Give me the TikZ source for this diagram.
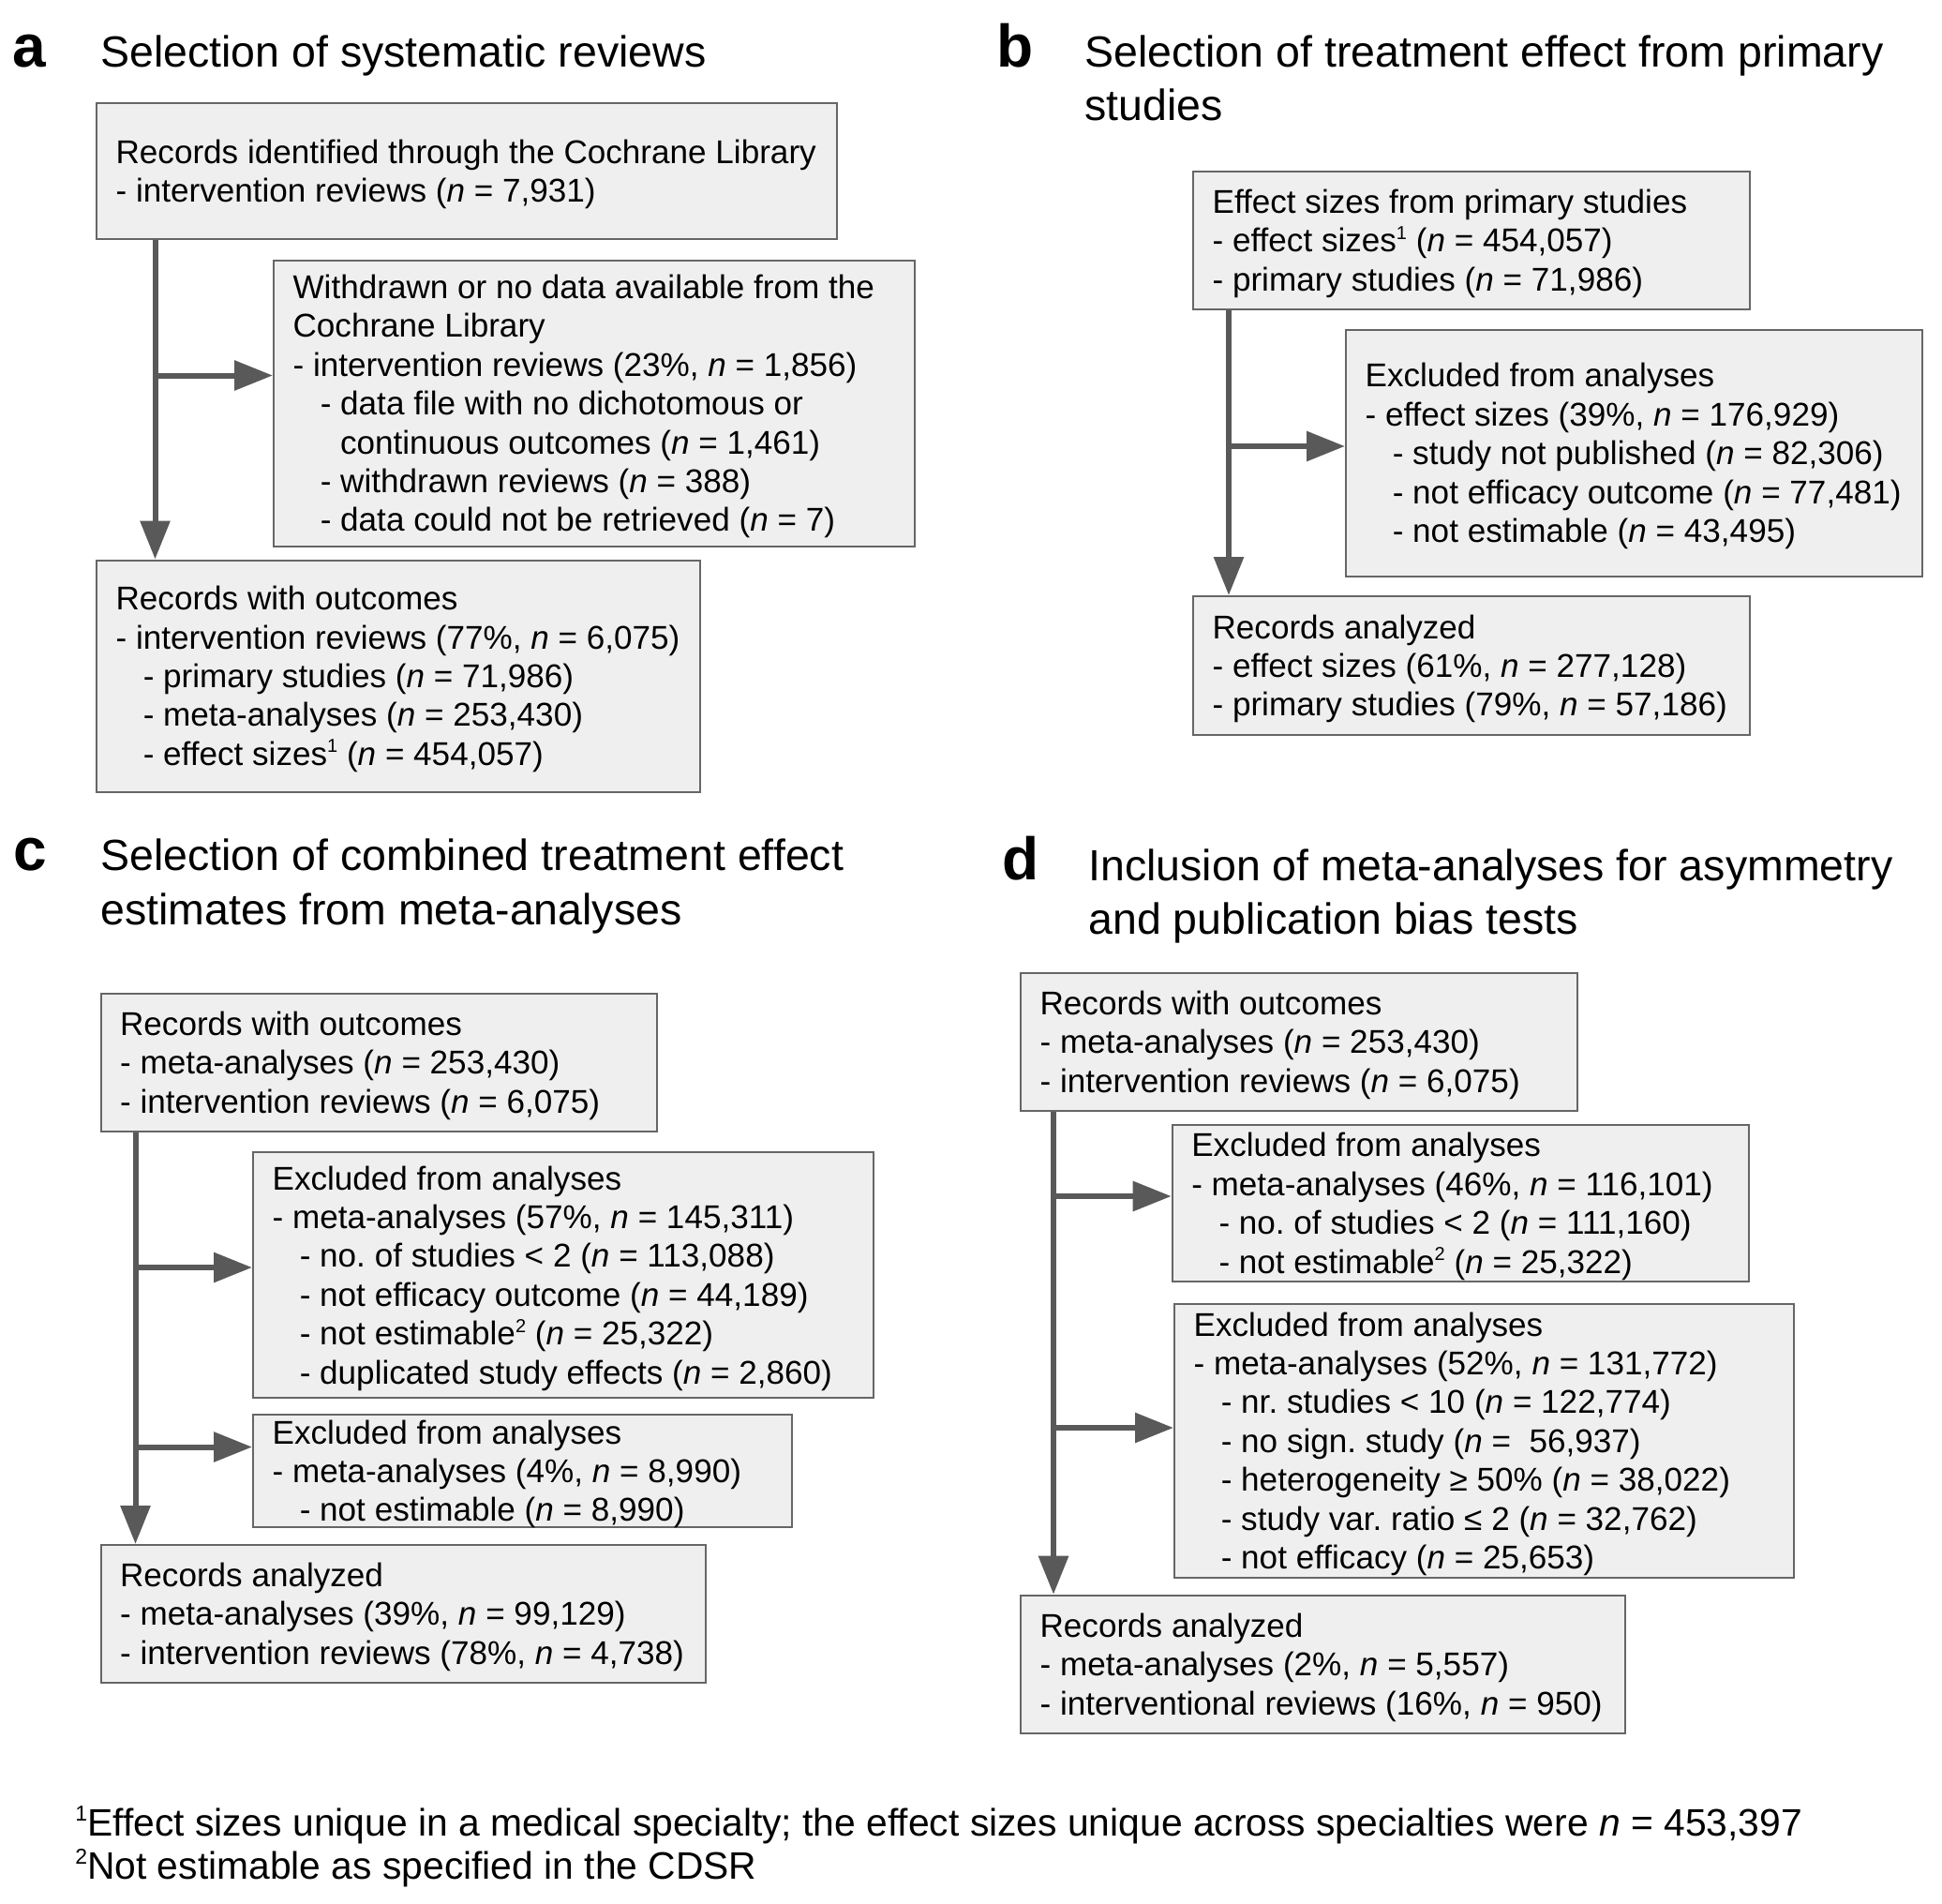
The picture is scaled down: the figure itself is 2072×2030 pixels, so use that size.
\documentclass[tikz,border=0pt]{standalone}
\usepackage{fontspec}
\setmainfont{Liberation Sans}
\usetikzlibrary{arrows.meta,fit}
\frenchspacing
\definecolor{boxfill}{HTML}{EFEFEF}
\definecolor{boxline}{HTML}{666666}
\definecolor{arrowc}{HTML}{595959}
\newcommand\ind{\hspace*{14.6pt}}
\newcommand\indd{\hspace*{25.2pt}}
\newcommand\ls{\rule[-4.1pt]{0pt}{20.7pt}}
\newcommand\nn{\textit{n}}
\newcommand\sups[1]{\raisebox{6.8pt}{\fontsize{10pt}{10pt}\selectfont #1}}
\newcommand\fsups[1]{\raisebox{8pt}{\fontsize{11.5pt}{11.5pt}\selectfont #1}}
\begin{document}
\begin{tikzpicture}[x=0.5pt,y=-0.5pt,
  box/.style={draw=boxline, line width=1pt, fill=boxfill, inner sep=0pt, rectangle},
  txt/.style={inner sep=0pt, align=left, anchor=west, font=\fontsize{17.55pt}{20.7pt}\selectfont},
  ttl/.style={inner sep=0pt, anchor=base west, font=\fontsize{23.25pt}{28.5pt}\selectfont},
  lbl/.style={inner sep=0pt, anchor=base west, font=\fontsize{32pt}{38pt}\selectfont\bfseries},
  fn/.style={inner sep=0pt, anchor=base west, font=\fontsize{20.4pt}{23pt}\selectfont},
  arr/.style={draw=arrowc, line width=3pt, -{Triangle[length=20.5pt,width=15.5pt]}}
]
\useasboundingbox[fill=white] (0,0) rectangle (2072,2030);

% ---------- panel a ----------
\node[lbl] (la) at (13,71.5) {a};
\node[ttl] (ta) at (107,71.5) {Selection of systematic reviews};
\node[box, fit={(103,110) (893,255)}] (a1) {};
\node[txt] (a1t) at ([xshift=10.6pt]a1.west) {\ls Records identified through the Cochrane Library\\
\ls - intervention reviews (\nn{} = 7,931)};
\node[box, fit={(292,277.5) (975.5,583)}] (a2) {};
\node[txt] (a2t) at ([xshift=10.6pt]a2.west) {\ls Withdrawn or no data available from the\\
\ls Cochrane Library\\
\ls - intervention reviews (23\%, \nn{} = 1,856)\\
\ls\ind - data file with no dichotomous or\\
\ls\indd continuous outcomes (\nn{} = 1,461)\\
\ls\ind - withdrawn reviews (\nn{} = 388)\\
\ls\ind - data could not be retrieved (\nn{} = 7)};
\node[box, fit={(103,597.5) (746.5,844.5)}] (a3) {};
\node[txt] (a3t) at ([xshift=10.6pt]a3.west) {\ls Records with outcomes\\
\ls - intervention reviews (77\%, \nn{} = 6,075)\\
\ls\ind - primary studies (\nn{} = 71,986)\\
\ls\ind - meta-analyses (\nn{} = 253,430)\\
\ls\ind - effect sizes\sups{1} (\nn{} = 454,057)};
\coordinate (ax) at (165.5,0);
\coordinate (ah) at (0,400.5);
\draw[arr] (a1.south -| ax) -- (a3.north -| ax);
\draw[arr] (ax |- ah) -- (a2.west |- ah);

% ---------- panel b ----------
\node[lbl] (lb) at (1063.5,71.5) {b};
\node[ttl] (tb1) at (1157,71.5) {Selection of treatment effect from primary};
\node[ttl] (tb2) at (1157,128.5) {studies};
\node[box, fit={(1273,182.5) (1866.5,330)}] (b1) {};
\node[txt] (b1t) at ([xshift=10.6pt]b1.west) {\ls Effect sizes from primary studies\\
\ls - effect sizes\sups{1} (\nn{} = 454,057)\\
\ls - primary studies (\nn{} = 71,986)};
\node[box, fit={(1436,351.5) (2051,615)}] (b2) {};
\node[txt] (b2t) at ([xshift=10.6pt]b2.west) {\ls Excluded from analyses\\
\ls - effect sizes (39\%, \nn{} = 176,929)\\
\ls\ind - study not published (\nn{} = 82,306)\\
\ls\ind - not efficacy outcome (\nn{} = 77,481)\\
\ls\ind - not estimable (\nn{} = 43,495)};
\node[box, fit={(1273,636) (1866.5,784)}] (b3) {};
\node[txt] (b3t) at ([xshift=10.6pt]b3.west) {\ls Records analyzed\\
\ls - effect sizes (61\%, \nn{} = 277,128)\\
\ls - primary studies (79\%, \nn{} = 57,186)};
\coordinate (bx) at (1311,0);
\coordinate (bh) at (0,476);
\draw[arr] (b1.south -| bx) -- (b3.north -| bx);
\draw[arr] (bx |- bh) -- (b2.west |- bh);

% ---------- panel c ----------
\node[lbl] (lc) at (14,928) {c};
\node[ttl] (tc1) at (107,928) {Selection of combined treatment effect};
\node[ttl] (tc2) at (107,986) {estimates from meta-analyses};
\node[box, fit={(107.5,1060) (701,1206.5)}] (c1) {};
\node[txt] (c1t) at ([xshift=10.6pt]c1.west) {\ls Records with outcomes\\
\ls - meta-analyses (\nn{} = 253,430)\\
\ls - intervention reviews (\nn{} = 6,075)};
\node[box, fit={(270,1229) (931.7,1491)}] (c2) {};
\node[txt] (c2t) at ([xshift=10.6pt]c2.west) {\ls Excluded from analyses\\
\ls - meta-analyses (57\%, \nn{} = 145,311)\\
\ls\ind - no. of studies < 2 (\nn{} = 113,088)\\
\ls\ind - not efficacy outcome (\nn{} = 44,189)\\
\ls\ind - not estimable\sups{2} (\nn{} = 25,322)\\
\ls\ind - duplicated study effects (\nn{} = 2,860)};
\node[box, fit={(270,1508.5) (845,1629.4)}] (c3) {};
\node[txt] (c3t) at ([xshift=10.6pt]c3.west) {\ls Excluded from analyses\\
\ls - meta-analyses (4\%, \nn{} = 8,990)\\
\ls\ind - not estimable (\nn{} = 8,990)};
\node[box, fit={(107.5,1648) (752.5,1794.5)}] (c4) {};
\node[txt] (c4t) at ([xshift=10.6pt]c4.west) {\ls Records analyzed\\
\ls - meta-analyses (39\%, \nn{} = 99,129)\\
\ls - intervention reviews (78\%, \nn{} = 4,738)};
\coordinate (cx) at (144.5,0);
\coordinate (ch1) at (0,1352);
\coordinate (ch2) at (0,1543.5);
\draw[arr] (c1.south -| cx) -- (c4.north -| cx);
\draw[arr] (cx |- ch1) -- (c2.west |- ch1);
\draw[arr] (cx |- ch2) -- (c3.west |- ch2);

% ---------- panel d ----------
\node[lbl] (ld) at (1069,938) {d};
\node[ttl] (td1) at (1161,939) {Inclusion of meta-analyses for asymmetry};
\node[ttl] (td2) at (1161,996) {and publication bias tests};
\node[box, fit={(1089,1038) (1682.5,1184.5)}] (d1) {};
\node[txt] (d1t) at ([xshift=10.6pt]d1.west) {\ls Records with outcomes\\
\ls - meta-analyses (\nn{} = 253,430)\\
\ls - intervention reviews (\nn{} = 6,075)};
\node[box, fit={(1250.7,1200) (1866.3,1367)}] (d2) {};
\node[txt] (d2t) at ([xshift=10.6pt]d2.west) {\ls Excluded from analyses\\
\ls - meta-analyses (46\%, \nn{} = 116,101)\\
\ls\ind - no. of studies < 2 (\nn{} = 111,160)\\
\ls\ind - not estimable\sups{2} (\nn{} = 25,322)};
\node[box, fit={(1253,1391) (1914,1682.6)}] (d3) {};
\node[txt] (d3t) at ([xshift=10.6pt]d3.west) {\ls Excluded from analyses\\
\ls - meta-analyses (52\%, \nn{} = 131,772)\\
\ls\ind - nr. studies < 10 (\nn{} = 122,774)\\
\ls\ind - no sign. study (\nn{} =\ \ 56,937)\\
\ls\ind - heterogeneity ≥ 50\% (\nn{} = 38,022)\\
\ls\ind - study var. ratio ≤ 2 (\nn{} = 32,762)\\
\ls\ind - not efficacy (\nn{} = 25,653)};
\node[box, fit={(1089,1701.7) (1734,1848.5)}] (d4) {};
\node[txt] (d4t) at ([xshift=10.6pt]d4.west) {\ls Records analyzed\\
\ls - meta-analyses (2\%, \nn{} = 5,557)\\
\ls - interventional reviews (16\%, \nn{} = 950)};
\coordinate (dx) at (1124,0);
\coordinate (dh1) at (0,1276);
\coordinate (dh2) at (0,1523);
\draw[arr] (d1.south -| dx) -- (d4.north -| dx);
\draw[arr] (dx |- dh1) -- (d2.west |- dh1);
\draw[arr] (dx |- dh2) -- (d3.west |- dh2);

% ---------- footnotes ----------
\node[fn] (f1) at (80,1958) {\fsups{1}Effect sizes unique in a medical specialty; the effect sizes unique across specialties were \nn{} = 453,397};
\node[fn] (f2) at (80,2004) {\fsups{2}Not estimable as specified in the CDSR};
\end{tikzpicture}
\end{document}
